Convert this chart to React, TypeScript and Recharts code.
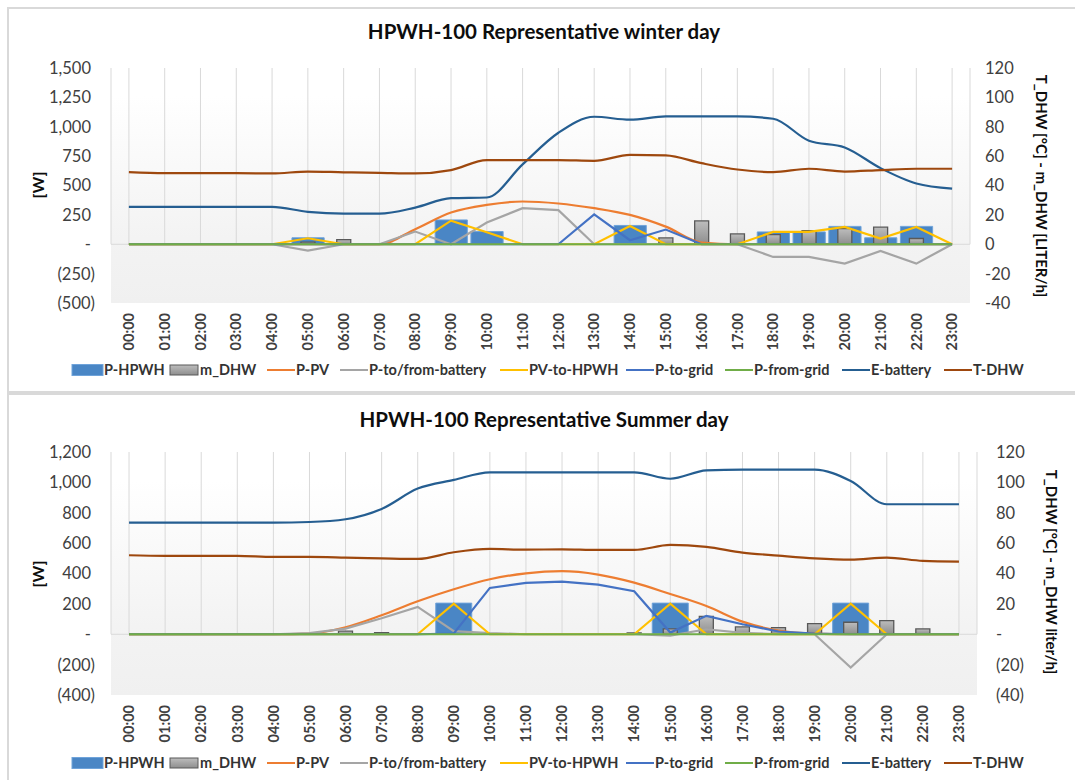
import React from 'react';
import { ComposedChart, Bar, Line, XAxis, YAxis, CartesianGrid, ReferenceLine } from 'recharts';

const HOURS = [
  '00:00', '01:00', '02:00', '03:00', '04:00', '05:00', '06:00', '07:00',
  '08:00', '09:00', '10:00', '11:00', '12:00', '13:00', '14:00', '15:00',
  '16:00', '17:00', '18:00', '19:00', '20:00', '21:00', '22:00', '23:00',
];

// winter day
const WINTER_P_HPWH = [0, 0, 0, 0, 0, 55, 0, 0, 0, 207, 108, 0, 0, 0, 160, 0, 0, 0, 105, 105, 152, 55, 152, 0];
const WINTER_M_DHW = [0, 0, 0, 0, 0, 1.5, 3.1, 0, 0, 0, 0, 0, 0, 0, 0, 4.3, 15.9, 7.0, 6.6, 9.3, 10.7, 11.6, 3.9, 0];
const WINTER_P_PV = [0, 0, 0, 0, 0, 0, 0, 0, 128, 270, 335, 364, 347, 307, 250, 150, 15, 0, 0, 0, 0, 0, 0, 0];
const WINTER_P_BATT = [0, 0, 0, 0, 0, -54, 0, 0, 108, 0, 185, 307, 290, 0, 0, 0, 0, 0, -108, -108, -165, -57, -165, 0];
const WINTER_PV_HPWH = [0, 0, 0, 0, 0, 51, 0, 0, 0, 201, 102, 0, 0, 0, 156, 0, 0, 0, 105, 105, 147, 48, 147, 0];
const WINTER_P_TO_GRID = [0, 0, 0, 0, 0, 0, 0, 0, 0, 0, 0, 0, 0, 255, 34, 125, 0, 0, 0, 0, 0, 0, 0, 0];
const WINTER_P_FROM_GRID = [0, 0, 0, 0, 0, 0, 0, 0, 0, 0, 0, 0, 0, 0, 0, 0, 0, 0, 0, 0, 0, 0, 0, 0];
const WINTER_E_BATT = [318, 318, 318, 318, 318, 276, 261, 261, 312, 392, 398, 680, 949, 1085, 1060, 1088, 1088, 1088, 1068, 881, 824, 648, 517, 474];
const WINTER_T_DHW = [49.1, 48.4, 48.4, 48.4, 48.2, 49.5, 49.0, 48.6, 48.2, 50.5, 57.3, 57.3, 57.3, 56.8, 60.9, 60.5, 55.2, 50.9, 49.1, 51.4, 49.5, 50.5, 51.4, 51.4];

// summer day
const SUMMER_P_HPWH = [0, 0, 0, 0, 0, 0, 0, 0, 0, 205, 0, 0, 0, 0, 0, 205, 0, 0, 0, 0, 205, 0, 0, 0];
const SUMMER_M_DHW = [0, 0, 0, 0, 0, 0, 2.0, 1.0, 0, 0, 0, 0, 0, 0, 0.9, 3.5, 11.8, 4.8, 4.4, 7.0, 7.9, 9.0, 3.5, 0];
const SUMMER_P_PV = [0, 0, 0, 0, 0, 4, 46, 125, 217, 296, 362, 401, 415, 393, 340, 265, 186, 83, 24, 4, 0, 0, 0, 0];
const SUMMER_P_BATT = [0, 0, 0, 0, 0, 7, 37, 105, 180, 20, 7, 0, 0, 0, 0, -9, 33, 9, 0, 0, -219, 0, 0, 0];
const SUMMER_PV_HPWH = [0, 0, 0, 0, 0, 0, 0, 0, 0, 202, 0, 0, 0, 0, 0, 202, 0, 0, 0, 0, 202, 0, 0, 0];
const SUMMER_P_TO_GRID = [0, 0, 0, 0, 0, 0, 0, 0, 0, 5, 305, 338, 347, 327, 283, 11, 121, 66, 18, 4, 0, 0, 0, 0];
const SUMMER_P_FROM_GRID = [0, 0, 0, 0, 0, 0, 0, 0, 0, 0, 0, 0, 0, 0, 0, 0, 0, 0, 0, 0, 0, 0, 0, 0];
const SUMMER_E_BATT = [735, 735, 735, 735, 735, 739, 757, 825, 959, 1016, 1066, 1066, 1066, 1066, 1066, 1024, 1079, 1084, 1084, 1084, 1009, 856, 856, 856];
const SUMMER_T_DHW = [52.0, 51.6, 51.6, 51.6, 50.9, 50.9, 50.5, 50.0, 49.6, 54.0, 56.2, 55.7, 55.9, 55.5, 55.5, 58.8, 57.5, 53.8, 51.8, 50.0, 49.1, 50.5, 48.3, 47.8];

const WINTER_LEFT_TICKS = [-500, -250, 0, 250, 500, 750, 1000, 1250, 1500];
const SUMMER_LEFT_TICKS = [-400, -200, 0, 200, 400, 600, 800, 1000, 1200];
const RIGHT_TICKS = [-40, -20, 0, 20, 40, 60, 80, 100, 120];

const LINES = [
  { key: 'pPv', name: 'P-PV', color: '#ed7d31', smooth: true },
  { key: 'pBatt', name: 'P-to/from-battery', color: '#a5a5a5', smooth: false },
  { key: 'pvHpwh', name: 'PV-to-HPWH', color: '#ffc000', smooth: false },
  { key: 'pToGrid', name: 'P-to-grid', color: '#4472c4', smooth: false },
  { key: 'pFromGrid', name: 'P-from-grid', color: '#70ad47', smooth: false },
  { key: 'eBatt', name: 'E-battery', color: '#255e91', smooth: true },
];

const FONT = 'Lato, "Open Sans", sans-serif';

const buildData = (hpwh, mdhw, pv, batt, pvh, toGrid, fromGrid, eBatt, tDhw) =>
  HOURS.map((hour, i) => ({
    hour,
    pHpwh: hpwh[i],
    mDhw: mdhw[i],
    pPv: pv[i],
    pBatt: batt[i],
    pvHpwh: pvh[i],
    pToGrid: toGrid[i],
    pFromGrid: fromGrid[i],
    eBatt: eBatt[i],
    tDhw: tDhw[i],
  }));

const winterData = buildData(WINTER_P_HPWH, WINTER_M_DHW, WINTER_P_PV, WINTER_P_BATT, WINTER_PV_HPWH,
  WINTER_P_TO_GRID, WINTER_P_FROM_GRID, WINTER_E_BATT, WINTER_T_DHW);
const summerData = buildData(SUMMER_P_HPWH, SUMMER_M_DHW, SUMMER_P_PV, SUMMER_P_BATT, SUMMER_PV_HPWH,
  SUMMER_P_TO_GRID, SUMMER_P_FROM_GRID, SUMMER_E_BATT, SUMMER_T_DHW);

const accounting = (v: number) => {
  if (v === 0) return '-';
  const s = Math.abs(v).toLocaleString('en-US');
  return v < 0 ? `(${s})` : s;
};
const plain = (v: number) => String(v);

const XTick = (props: any) => {
  const { x, y, payload } = props;
  return (
    <text x={x} y={y} transform={`rotate(-90 ${x} ${y})`} textAnchor="end" dy="0.36em"
      fontSize={14.5} fontWeight="bold" fill="#404040" fontFamily={FONT}>
      {payload.value}
    </text>
  );
};

const leftTick = (fmt: (v: number) => string) => (props: any) => {
  const { x, y, payload } = props;
  return (
    <text x={payload.value < 0 ? x + 4 : x} y={y} dy="0.36em" textAnchor="end" fontSize={16.5}
      fill="#404040" fontFamily={FONT}>
      {fmt(payload.value)}
    </text>
  );
};

const rightTick = (fmt: (v: number) => string) => (props: any) => {
  const { x, y, payload } = props;
  return (
    <text x={x} y={y} dy="0.36em" textAnchor="start" fontSize={16.5} fill="#404040" fontFamily={FONT}>
      {fmt(payload.value)}
    </text>
  );
};

// vertical gridlines only run down to the zero line
const gridLine = (min: number, max: number) => (props: any) => {
  const { x1, x2, y1, y2, index } = props;
  const zy = y1 + ((y2 - y1) * max) / (max - min);
  return <line key={`v-${index}`} x1={x1} x2={x2} y1={y1} y2={zy} stroke="#d9d9d9" strokeWidth={1} />;
};

type PanelProps = {
  data: any[];
  top: number;
  height: number;
  margin: { top: number; right: number; bottom: number; left: number };
  leftTicks: number[];
  leftFmt: (v: number) => string;
  rightFmt: (v: number) => string;
  rightGap: number;
};

const Panel: React.FC<PanelProps> = ({ data, top, height, margin, leftTicks, leftFmt, rightFmt, rightGap }) => {
  const lMin = leftTicks[0];
  const lMax = leftTicks[leftTicks.length - 1];
  return (
    <div style={{ position: 'absolute', left: 0, top, width: 1075, height }}>
      <ComposedChart width={1075} height={height} data={data} margin={margin}>
        <CartesianGrid xAxisId="main" yAxisId="left" horizontal={false} vertical={gridLine(lMin, lMax)}
          fill="url(#plotBg)" />
        <XAxis xAxisId="main" dataKey="hour" interval={0} axisLine={false} tickLine={false} tickSize={0}
          tickMargin={10} height={50} tick={<XTick />} />
        <XAxis xAxisId="sec" dataKey="hour" hide />
        <YAxis yAxisId="left" domain={[lMin, lMax]} ticks={leftTicks} interval={0} axisLine={false}
          tickLine={false} tickSize={0} tickMargin={20} width={60} tick={leftTick(leftFmt)} />
        <YAxis yAxisId="right" orientation="right" domain={[-40, 120]} ticks={RIGHT_TICKS} interval={0}
          axisLine={false} tickLine={false} tickSize={0} tickMargin={rightGap} width={60} tick={rightTick(rightFmt)} />
        <ReferenceLine xAxisId="main" yAxisId="left" y={0} stroke="#d9d9d9" strokeWidth={1} />
        <Bar xAxisId="main" yAxisId="left" dataKey="pHpwh" name="P-HPWH" barSize={36} fill="#4a86c5"
          stroke="#6fa3da" strokeWidth={1} isAnimationActive={false} />
        <Bar xAxisId="sec" yAxisId="right" dataKey="mDhw" name="m_DHW" barSize={14} fill="url(#dhwFill)"
          stroke="#595959" strokeWidth={1.3} isAnimationActive={false} />
        {LINES.map((s) => (
          <Line key={s.key} xAxisId="main" yAxisId="left" dataKey={s.key} name={s.name}
            type={s.smooth ? 'monotone' : 'linear'} stroke={s.color} strokeWidth={2.2} dot={false}
            activeDot={false} isAnimationActive={false} />
        ))}
        <Line xAxisId="main" yAxisId="right" dataKey="tDhw" name="T-DHW" type="monotone" stroke="#9e480e"
          strokeWidth={2.2} dot={false} activeDot={false} isAnimationActive={false} />
      </ComposedChart>
    </div>
  );
};

const LEGEND_X = [72, 170, 267, 340, 500, 626, 725, 842, 944];

const Legend: React.FC<{ y: number }> = ({ y }) => (
  <g fontFamily={FONT} fontSize={14.5} fontWeight="bold" fill="#333">
    <rect x={LEGEND_X[0]} y={y - 5.5} width={31} height={11} fill="#4a86c5" stroke="#6fa3da" />
    <text x={LEGEND_X[0] + 32} y={y} dy="0.36em">P-HPWH</text>
    <rect x={LEGEND_X[1]} y={y - 5} width={28} height={10} fill="url(#dhwFill)" stroke="#595959" />
    <text x={LEGEND_X[1] + 30} y={y} dy="0.36em">m_DHW</text>
    {[...LINES, { key: 'tDhw', name: 'T-DHW', color: '#9e480e' }].map((s, i) => (
      <g key={s.key}>
        <line x1={LEGEND_X[i + 2]} x2={LEGEND_X[i + 2] + 28} y1={y} y2={y} stroke={s.color} strokeWidth={2} />
        <text x={LEGEND_X[i + 2] + 29} y={y} dy="0.36em">{s.name}</text>
      </g>
    ))}
  </g>
);

export default function App() {
  return (
    <div style={{ position: 'relative', width: 1075, height: 780, background: '#fff', overflow: 'hidden' }}>
      <style>{'body{margin:0;}'}</style>
      <svg width={0} height={0} style={{ position: 'absolute' }}>
        <defs>
          <linearGradient id="plotBg" x1="0" y1="0" x2="0" y2="1">
            <stop offset="0" stopColor="#ffffff" />
            <stop offset="0.12" stopColor="#ffffff" />
            <stop offset="0.72" stopColor="#f3f3f3" />
            <stop offset="1" stopColor="#f0f0f0" />
          </linearGradient>
          <linearGradient id="dhwFill" x1="0" y1="0" x2="0" y2="1">
            <stop offset="0" stopColor="#bdbdbd" />
            <stop offset="1" stopColor="#8e8e8e" />
          </linearGradient>
        </defs>
      </svg>
      <div style={{ position: 'absolute', left: 7, top: 7, width: 1100, height: 384, border: '2px solid #d9d9d9' }} />
      <div style={{ position: 'absolute', left: 7, top: 391, width: 1100, height: 400, border: '2px solid #d9d9d9' }} />
      <Panel data={winterData} top={0} height={393}
        margin={{ top: 68, right: 45, bottom: 40, left: 51 }}
        leftTicks={WINTER_LEFT_TICKS} leftFmt={accounting} rightFmt={plain} rightGap={15} />
      <Panel data={summerData} top={390} height={390}
        margin={{ top: 62, right: 38, bottom: 35, left: 51 }}
        leftTicks={SUMMER_LEFT_TICKS} leftFmt={accounting} rightFmt={accounting} rightGap={19} />
      <svg width={1075} height={780} style={{ position: 'absolute', left: 0, top: 0, pointerEvents: 'none' }}>
        <g fontFamily={FONT} fill="#0d0d0d" fontWeight="bold">
          <text x={544} y={39} textAnchor="middle" fontSize={20.5}>HPWH-100 Representative winter day</text>
          <text x={544} y={427} textAnchor="middle" fontSize={20.5}>HPWH-100 Representative Summer day</text>
          <text transform="translate(38,185) rotate(-90)" textAnchor="middle" dy="0.36em" fontSize={16}>[W]</text>
          <text transform="translate(38,574) rotate(-90)" textAnchor="middle" dy="0.36em" fontSize={16}>[W]</text>
          <text transform="translate(1041,186) rotate(90)" textAnchor="middle" dy="0.36em" fontSize={15}>
            T_DHW [°C] - m_DHW [LITER/h]
          </text>
          <text transform="translate(1051,572) rotate(90)" textAnchor="middle" dy="0.36em" fontSize={15}>
            T_DHW [°C] - m_DHW liter/h]
          </text>
        </g>
        <Legend y={370} />
        <Legend y={763} />
      </svg>
    </div>
  );
}
